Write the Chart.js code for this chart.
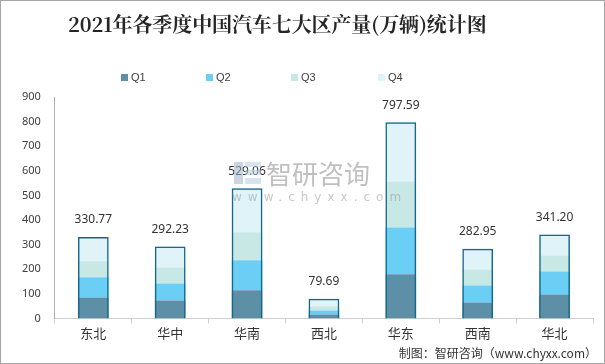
<!DOCTYPE html>
<html>
<head>
<meta charset="utf-8">
<script src="https://cdn.jsdelivr.net/npm/chart.js@4/dist/chart.umd.min.js"></script>
<style>
  html, body { margin: 0; padding: 0; background: #fff; }
  #wrap { position: relative; width: 605px; height: 364px; box-sizing: border-box; border: 1px solid #a6a6a6; overflow: hidden; font-family: "Noto Sans CJK SC", "Noto Sans", sans-serif; }
  #c { position: absolute; left: 0; top: 0; }
  #title { position: absolute; left: 67px; top: 8px; font-family: "Noto Serif CJK SC", "Noto Sans CJK SC", serif; font-weight: bold; font-size: 20px; color: #262626; white-space: nowrap; letter-spacing: -0.1px; }
  #legend { position: absolute; left: 0; top: 70px; height: 14px; }
  .li { position: absolute; top: 0; display: flex; align-items: center; font-size: 11px; color: #404040; font-family: "Liberation Sans", "Noto Sans", sans-serif; }
  .li span.box { display: inline-block; width: 7px; height: 7px; margin-right: 3px; }
  #wm { position: absolute; left: 230px; top: 155px; opacity: 0.55; pointer-events: none; }
  #wm .big { position: absolute; left: 35px; top: -2px; font-size: 26px; color: #8c8c8c; white-space: nowrap; letter-spacing: 0px; }
  #wm .small { position: absolute; left: 1px; top: 34px; font-size: 12px; color: #9a9a9a; white-space: nowrap; letter-spacing: 6px; font-family: "DejaVu Sans", sans-serif; }
  #wm .logo { position: absolute; left: 3px; top: 4px; width: 28px; height: 26px; }
  #footer { position: absolute; right: 7px; top: 343px; font-size: 12px; color: #333; white-space: nowrap; }
</style>
</head>
<body>
<div id="wrap">
  <canvas id="c" width="603" height="362"></canvas>
  <div id="title">2021年各季度中国汽车七大区产量(万辆)统计图</div>
  <div id="legend"></div>
  <div id="wm">
    <svg class="logo" viewBox="0 0 28 26"><rect x="0" y="2" width="9" height="22" fill="#9fb6cc"/><rect x="11" y="2" width="16" height="5" fill="#b7cde0"/><rect x="11" y="10" width="16" height="5" fill="#b7cde0"/><rect x="11" y="18" width="16" height="6" fill="#b7cde0"/></svg>
    <div class="big">智研咨询</div>
    <div class="small">www.chyxx.com</div>
  </div>
  <div id="footer">制图：智研咨询（www.chyxx.com）</div>
</div>
<script>
const categories = ['东北', '华中', '华南', '西北', '华东', '西南', '华北'];
const seriesNames = ['Q1', 'Q2', 'Q3', 'Q4'];
const q1 = [85, 73, 114, 16, 179, 65, 97];
const q2 = [82, 69, 122, 16, 191, 69, 94];
const q3 = [65, 65, 114, 17, 187, 65, 65];
const q4 = [98.77, 85.23, 179.06, 30.69, 240.59, 83.95, 85.20];
const totals = [330.77, 292.23, 529.06, 79.69, 797.59, 282.95, 341.20];
const yTicks = [0, 100, 200, 300, 400, 500, 600, 700, 800, 900];

const colors = ['#5d8fa7', '#6bcef4', '#c8e8e5', '#dff3f9'];
const seriesData = [q1, q2, q3, q4];

const datasets = seriesData.map((d, i) => ({
  label: seriesNames[i],
  data: d,
  backgroundColor: colors[i],
  borderWidth: 0,
  barPercentage: 0.4,
  categoryPercentage: 1,
  stack: 's',
  order: 1
}));
datasets.push({
  label: '合计',
  data: totals,
  backgroundColor: 'rgba(0,0,0,0)',
  borderColor: '#17688a',
  borderWidth: 1.5,
  barPercentage: 0.4,
  categoryPercentage: 1,
  stack: 't',
  grouped: false,
  order: 0
});

const totalLabels = {
  id: 'totalLabels',
  afterDatasetsDraw(chart) {
    const meta = chart.getDatasetMeta(4);
    const ctx = chart.ctx;
    ctx.save();
    ctx.font = '12px "Noto Sans", "DejaVu Sans", sans-serif';
    ctx.fillStyle = '#333';
    ctx.textAlign = 'center';
    ctx.textBaseline = 'middle';
    meta.data.forEach((el, i) => {
      ctx.fillText(totals[i].toFixed(2), el.x, el.y - 17);
    });
    ctx.restore();
  }
};

const chart = new Chart(document.getElementById('c'), {
  type: 'bar',
  data: { labels: categories, datasets },
  options: {
    responsive: false,
    animation: false,
    devicePixelRatio: 1,
    layout: { padding: { top: 96, left: 7, right: 11, bottom: 20 } },
    plugins: {
      legend: { display: false },
      title: { display: false },
      tooltip: { enabled: false }
    },
    scales: {
      x: {
        stacked: true,
        offset: true,
        grid: { display: true, offset: true, drawOnChartArea: false, drawTicks: true, tickLength: 5, color: '#d0d0d0' },
        border: { display: true, color: '#d0d0d0', width: 1 },
        ticks: { color: '#333', font: { size: 13, family: '"Noto Sans CJK SC", sans-serif' }, padding: 2 }
      },
      y: {
        stacked: true,
        min: 0,
        max: 900,
        afterBuildTicks(axis) { axis.ticks = yTicks.map(v => ({ value: v })); },
        grid: { display: false, drawTicks: false },
        border: { display: true, color: '#b0b0b0', width: 1 },
        ticks: { color: '#404040', font: { size: 11, family: '"Noto Sans", "DejaVu Sans", sans-serif' }, padding: 14 }
      }
    }
  },
  plugins: [totalLabels]
});

// HTML legend built from chart datasets
const legendEl = document.getElementById('legend');
const legendX = [120, 205, 290, 377];
chart.data.datasets.slice(0, 4).forEach((ds, i) => {
  const item = document.createElement('div');
  item.className = 'li';
  item.style.left = legendX[i] + 'px';
  const b = document.createElement('span');
  b.className = 'box';
  b.style.background = ds.backgroundColor;
  item.appendChild(b);
  item.appendChild(document.createTextNode(ds.label));
  legendEl.appendChild(item);
});
</script>
</body>
</html>
